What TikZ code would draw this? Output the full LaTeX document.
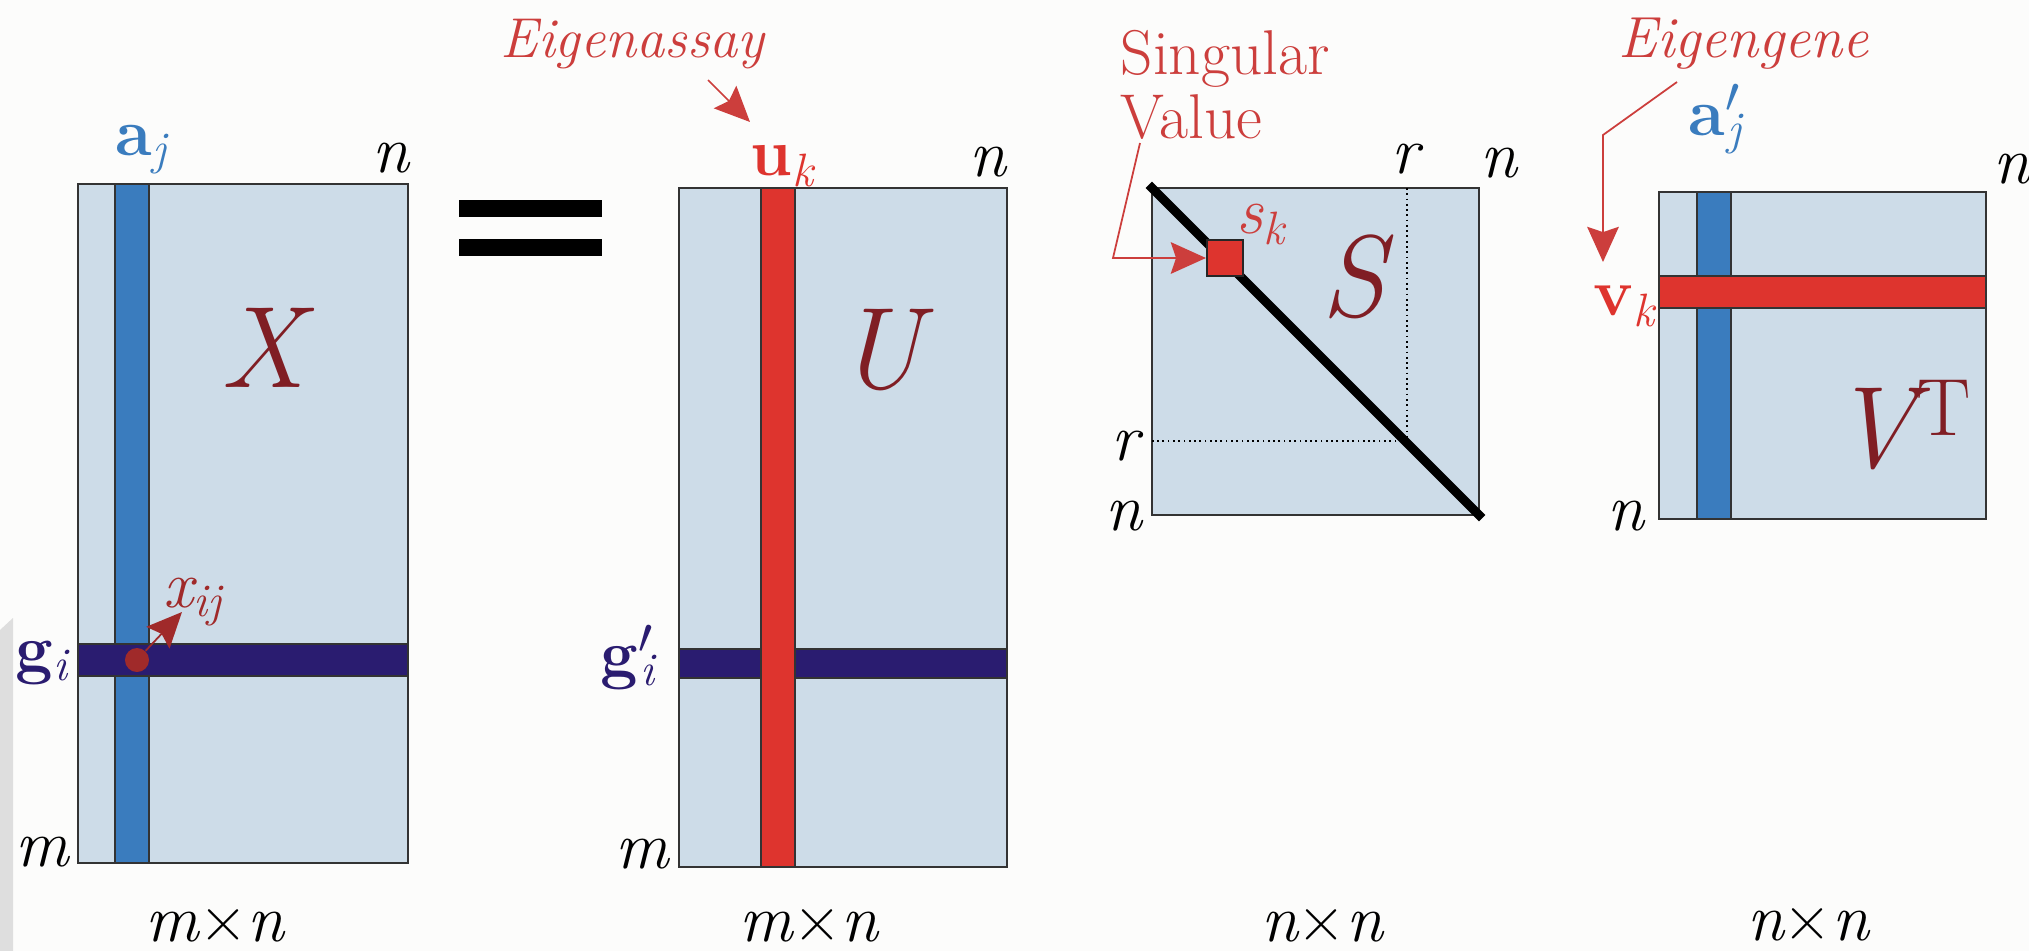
\documentclass[tikz,border=0pt]{standalone}
\usetikzlibrary{arrows.meta}

\definecolor{pagebg}{RGB}{252,252,251}
\definecolor{cellbg}{RGB}{205,220,232}
\definecolor{colblue}{RGB}{58,124,190}
\definecolor{rownavy}{RGB}{42,28,112}
\definecolor{vecred}{RGB}{222,52,46}
\definecolor{bigred}{RGB}{128,30,36}
\definecolor{notered}{RGB}{204,62,60}
\definecolor{dotred}{RGB}{160,42,42}

\begin{document}
\begin{tikzpicture}[x=0.01cm,y=-0.01cm,
  mat/.style={draw=black!80,line width=0.7pt,fill=cellbg},
  bar/.style={draw=black!80,line width=0.5pt},
  dim/.style={inner sep=0pt,font=\fontsize{19}{22}\selectfont\itshape},
  vec/.style={inner sep=0pt,font=\fontsize{19}{22}\selectfont\bfseries},
  big/.style={inner sep=0pt,text=bigred,font=\fontsize{33}{36}\selectfont\itshape},
  note/.style={inner sep=0pt,text=notered,font=\fontsize{16}{19}\selectfont\itshape},
  ptr/.style={draw=notered,line width=0.5pt,-{Stealth[length=10pt,width=9pt,inset=1.5pt]}}]
\useasboundingbox (0,0) rectangle (2029,951);
\fill[pagebg] (0,0) rectangle (2029,951);
\fill[black!13] (0,630) -- (13,618) -- (13,951) -- (0,951) -- cycle;

% data matrix X
\draw[mat] (78,184) rectangle (408,863);
\draw[bar,fill=colblue] (115,184) rectangle (149,863);
\draw[bar,fill=rownavy] (78,644) rectangle (408,676);
\node[circle,fill=dotred,inner sep=0pt,minimum size=0.24cm] (xdot) at (137,660) {};
\coordinate (xtip) at (182,612);
\draw[ptr,draw=dotred] (xdot) -- (xtip);
\node[vec,text=colblue,anchor=base west] (aj) at (115,155) {a\textsubscript{\mdseries\itshape j}};
\node[dim,anchor=base east] (nX) at (410,172) {n};
\node[big] (Xname) at (263,348) {X};
\node[dim,text=dotred,anchor=base west] (xij) at (163,607) {x\textsubscript{ij}};
\node[vec,text=rownavy,anchor=base west] (gi) at (15,671) {g\textsubscript{\mdseries\itshape i}};
\node[dim,anchor=base west] (mX) at (15,866) {m};
\node[dim,anchor=base] (sizeX) at (215,941) {m{\upshape ×}n};

% equals
\fill (459,200) rectangle (602,217);
\fill (459,239) rectangle (602,256);

% U
\draw[mat] (679,188) rectangle (1007,867);
\draw[bar,fill=rownavy] (679,649) rectangle (1007,678);
\draw[bar,fill=vecred] (761,188) rectangle (795,867);
\node[note,anchor=base west] (eas) at (500,57) {Eigenassay};
\node[vec,text=vecred,anchor=base west] (uk) at (750,175) {u\textsubscript{\mdseries\itshape k}};
\coordinate (easfoot) at (708,80);
\coordinate (eastip) at (750,122);
\draw[ptr] (easfoot) -- (eastip);
\node[dim,anchor=base east] (nU) at (1007,176) {n};
\node[big] (Uname) at (880,350) {U};
\node[vec,text=rownavy,anchor=base west] (gpi) at (600,676) {g\textsuperscript{\rlap{$\prime$}}\textsubscript{\mdseries\itshape i}};
\node[dim,anchor=base west] (mU) at (615,868) {m};
\node[dim,anchor=base] (sizeU) at (809,941) {m{\upshape ×}n};

% S
\draw[mat] (1152,188) rectangle (1479,515);
\draw[densely dotted,line width=0.5pt] (1407,188) -- (1407,441) -- (1152,441);
\draw[line width=2.6pt,line cap=rect] (1152,188) -- (1479,515);
\node[draw=black!85,line width=0.6pt,fill=vecred,minimum size=0.36cm,inner sep=0pt] (skbox) at (1225,258) {};
\node[dim,text=notered,anchor=base west] (sk) at (1236,233) {s\textsubscript{k}};
\node[big] (Sname) at (1353,277) {S};
\node[dim,anchor=base] (rtop) at (1405,173) {r};
\node[dim,anchor=base west] (ntopS) at (1480,177) {n};
\node[dim,anchor=base east] (rleft) at (1140,460) {r};
\node[dim,anchor=base east] (nleftS) at (1143,530) {n};
\node[dim,anchor=base] (sizeS) at (1322,941) {n{\upshape ×}n};
\node[inner sep=0pt,text=notered,font=\fontsize{18}{18.2}\selectfont,align=left,anchor=north west] (sv) at (1120,30) {Singular\\Value};
\coordinate (svfoot) at (1140,143);
\coordinate (svbend) at (1113,258);
\draw[ptr] (svfoot) -- (svbend) -- (skbox.west);

% V transpose
\draw[mat] (1659,192) rectangle (1986,519);
\draw[bar,fill=colblue] (1697,192) rectangle (1731,519);
\draw[bar,fill=vecred] (1659,276) rectangle (1986,308);
\node[note,font=\fontsize{16.5}{19}\selectfont\itshape,anchor=base west] (egn) at (1618,57) {Eigengene};
\node[vec,text=colblue,anchor=base west] (apj) at (1688,135) {a\textsuperscript{\rlap{$\prime$}}\textsubscript{\mdseries\itshape j}};
\node[dim,anchor=base west] (ntopV) at (1993,183) {n};
\node[vec,text=vecred,anchor=base west] (vk) at (1593,315) {v\textsubscript{\mdseries\itshape k}};
\coordinate (egfoot) at (1677,82);
\coordinate (egbend) at (1603,135);
\coordinate (egtip) at (1603,262);
\draw[ptr] (egfoot) -- (egbend) -- (egtip);
\node[big] (Vname) at (1902,425) {V\textsuperscript{\upshape T}};
\node[dim,anchor=base east] (nleftV) at (1645,530) {n};
\node[dim,anchor=base] (sizeV) at (1808,940) {n{\upshape ×}n};
\end{tikzpicture}
\end{document}
